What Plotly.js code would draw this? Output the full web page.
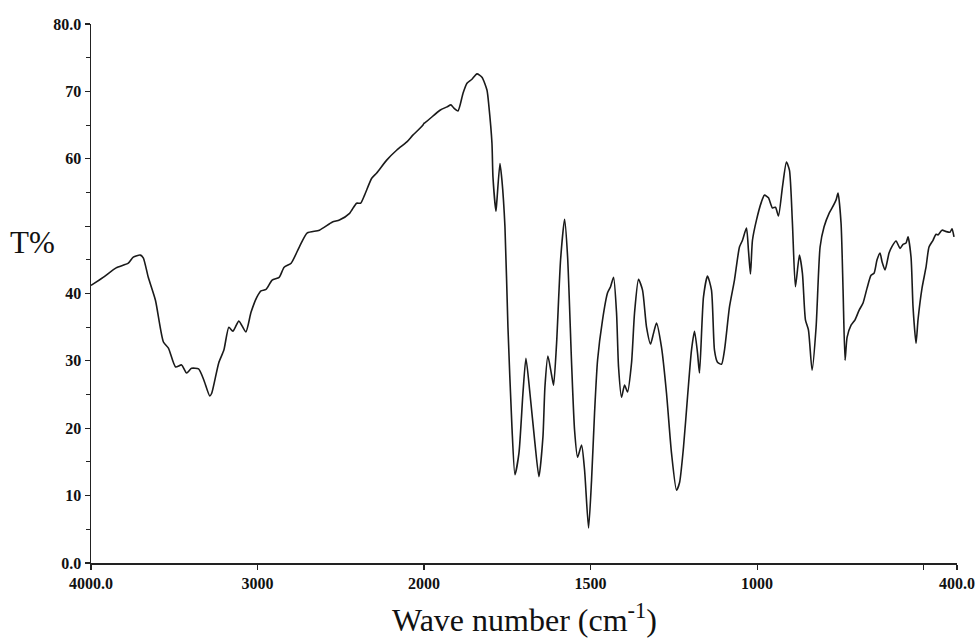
<!DOCTYPE html>
<html>
<head>
<meta charset="utf-8">
<script src="https://cdn.plot.ly/plotly-3.0.1.min.js"></script>
<style>html,body{margin:0;padding:0;background:#fff;}#chart{width:976px;height:639px;}</style>
</head>
<body>
<div id="chart"></div>
<script>
// Wavenumber (cm-1), descending
const wavenumber = [4000,3927,3849,3776,3746,3704,3686,3656,3613,3565,3535,3492,3456,3426,3396,3354,3323,3287,3275,3233,3202,3172,3148,3112,3070,3039,3003,2979,2949,2912,2870,2840,2798,2749,2701,2628,2550,2508,2447,2405,2381,2357,2314,2284,2224,2163,2103,2067,2006,
1952,1931,1919,1910,1898,1883,1871,1856,1841,1826,1811,1805,1796,1793,1784,1781,1772,1766,1757,1748,1736,1727,1715,1703,1694,1682,1667,1655,1643,1637,1628,1617,1611,1602,1590,1578,1569,1557,1548,1539,1527,1518,1506,1497,1488,1479,1464,1449,1440,1431,1422,1416,1407,1398,1389,1377,1368,1356,1344,1332,1320,1311,1302,1287,1272,1257,1242,1233,1221,1209,1197,1188,1179,1173,1161,1149,1137,1128,1119,1107,1098,1083,1068,1053,1044,1032,1026,1020,1014,1002,987,978,966,954,945,936,924,912,903,894,885,873,864,855,846,835,823,811,799,784,775,763,757,748,742,736,730,718,706,694,682,670,658,649,640,631,625,616,604,595,583,571,562,553,547,538,532,523,517,505,493,484,472,463,457,445,433,421,415,409];
// Transmittance (%)
const transmittance = [41.2,42.4,43.8,44.5,45.4,45.7,45.3,42.4,39.0,32.8,31.9,29.1,29.4,28.2,28.9,28.8,27.2,24.8,25.2,29.7,31.6,35.0,34.4,35.9,34.3,37.2,39.5,40.4,40.6,42.0,42.4,43.9,44.5,46.9,49.0,49.4,50.6,50.9,51.9,53.4,53.4,54.6,57.1,57.9,59.8,61.3,62.5,63.5,65.0,
67.2,67.7,68.0,67.5,67.1,69.7,71.2,71.8,72.6,72.1,70.2,67.7,62.3,57.3,52.2,53.9,59.3,56.8,49.9,35.0,20.2,13.1,16.3,25.2,30.4,25.2,17.8,12.8,18.7,26.1,30.7,27.9,26.4,32.6,45.0,51.0,45.5,29.7,19.7,15.7,17.5,13.8,5.2,12.3,22.3,30.1,36.1,40.1,41.0,42.4,37.1,29.1,24.6,26.4,25.4,29.7,37.1,42.1,40.5,35.0,32.5,34.1,35.6,32.0,25.2,16.3,10.8,11.9,17.2,24.6,31.6,34.4,31.2,28.2,39.5,42.6,40.5,31.6,29.8,29.5,31.6,38.0,42.0,46.9,47.9,49.7,46.4,42.9,47.9,50.9,53.6,54.6,54.2,52.7,52.8,51.5,55.8,59.5,58.3,50.4,41.0,45.7,43.0,36.1,34.6,28.6,35.0,46.9,49.9,51.9,52.7,53.9,54.9,50.4,40.5,30.1,33.5,35.3,36.1,37.5,38.6,40.8,42.7,43.0,45.0,46.0,44.7,43.5,46.0,47.0,47.8,46.7,47.3,47.5,48.4,45.4,38.0,32.6,36.1,40.8,43.9,46.9,47.9,48.8,48.7,49.4,49.2,49.1,49.6,48.4];

// Tick labels
const xTicksHigh = [4000, 3000, 2000];
const xTickTextHigh = ['4000.0', '3000', '2000'];
const xTicksLow = [1500, 1000, 500, 400];
const xTickTextLow = ['1500', '1000', ' ', '400.0'];
const yTicks = [0,10,20,30,40,50,60,70,80];
const yTickText = ['0.0','10','20','30','40',' ','60','70','80.0'];
const yMinorTicks = [5,15,25,35,45,55,65,75];

const split = (424 - 91) / 866;
const lineStyle = {color: '#1a1a1a', width: 1.6, shape: 'spline', smoothing: 0.6};

const traces = [
  {x: wavenumber, y: transmittance, type: 'scatter', mode: 'lines', xaxis: 'x', yaxis: 'y', line: lineStyle, hoverinfo: 'x+y'},
  {x: wavenumber, y: transmittance, type: 'scatter', mode: 'lines', xaxis: 'x2', yaxis: 'y', line: lineStyle, hoverinfo: 'x+y'}
];

const tickFont = {family: 'Liberation Serif, Times New Roman, serif', size: 16, color: '#111', weight: 'bold'};
const axisCommon = {
  showgrid: false, zeroline: false, showline: true, linecolor: '#222', linewidth: 1.5,
  ticks: 'outside', ticklen: 5, tickwidth: 1.2, tickcolor: '#222', tickfont: tickFont, tickmode: 'array'
};

const layout = {
  width: 976, height: 639,
  margin: {l: 91, r: 19, t: 24, b: 76},
  paper_bgcolor: '#fff', plot_bgcolor: '#fff',
  showlegend: false,
  xaxis: Object.assign({}, axisCommon, {domain: [0, split], range: [4000, 2000], anchor: 'y', tickvals: xTicksHigh, ticktext: xTickTextHigh}),
  xaxis2: Object.assign({}, axisCommon, {domain: [split, 1], range: [2000, 400], anchor: 'y', tickvals: xTicksLow, ticktext: xTickTextLow}),
  yaxis: Object.assign({}, axisCommon, {range: [0, 80], anchor: 'x', tickvals: yTicks, ticktext: yTickText, ticklen: 5,
    minor: {tickmode: 'array', tickvals: yMinorTicks, ticks: 'outside', ticklen: 4, tickcolor: '#222', tickwidth: 1, showgrid: false}}),
  annotations: [
    {text: 'Wave number (cm<sup>-1</sup>)', xref: 'paper', yref: 'paper', x: 0.5, y: -0.102, xanchor: 'center', yanchor: 'middle', showarrow: false,
     font: {family: 'Liberation Serif, Times New Roman, serif', size: 32, color: '#111'}},
    {text: 'T%', xref: 'paper', yref: 'paper', x: -0.068, y: 0.594, xanchor: 'center', yanchor: 'middle', showarrow: false,
     font: {family: 'Liberation Serif, Times New Roman, serif', size: 31, color: '#111'}}
  ]
};

Plotly.newPlot('chart', traces, layout, {displayModeBar: false, staticPlot: true});
</script>
</body>
</html>
